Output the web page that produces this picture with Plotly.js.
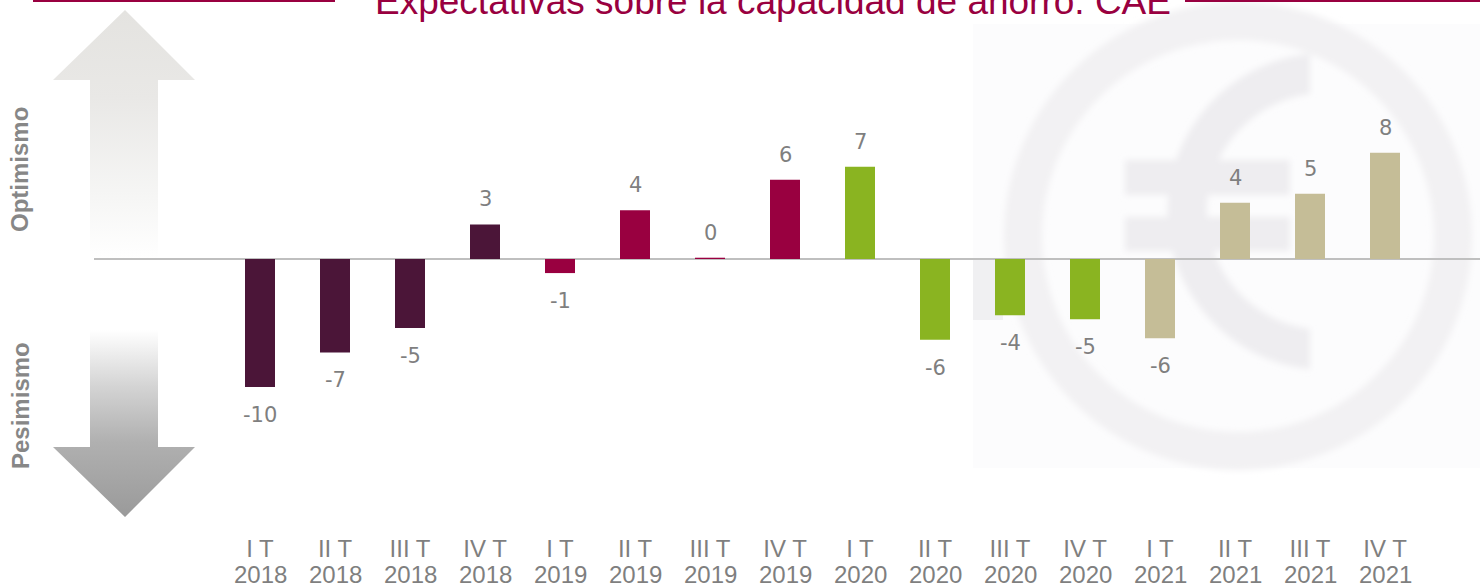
<!DOCTYPE html>
<html>
<head>
<meta charset="utf-8">
<script src="https://cdn.plot.ly/plotly-3.0.1.min.js"></script>
<style>html,body{margin:0;padding:0;background:#fff;}#chart{width:1480px;height:586px;}</style>
</head>
<body>
<div id="chart"></div>
<script>
// ---- data ----
const quarters = ['I T','II T','III T','IV T','I T','II T','III T','IV T','I T','II T','III T','IV T','I T','II T','III T','IV T'];
const years = ['2018','2018','2018','2018','2019','2019','2019','2019','2020','2020','2020','2020','2021','2021','2021','2021'];
const values = [-10.0, -7.3, -5.4, 2.7, -1.1, 3.8, 0.1, 6.2, 7.2, -6.3, -4.4, -4.7, -6.2, 4.4, 5.1, 8.3];
const yearColors = {'2018':'#4b1538','2019':'#990040','2020':'#8ab421','2021':'#c5bd97'};
const titleText = 'Expectativas sobre la capacidad de ahorro. CAE';
const upLabel = 'Optimismo';
const downLabel = 'Pesimismo';

// ---- layout geometry ----
const W = 1480, H = 586;
const ML = 94, MR = 0, MT = 40, MB = 56;
const PW = W - ML - MR, PH = H - MT - MB;
const FONT = 'Liberation Sans, Arial, Helvetica, sans-serif';
const VFONT = 'DejaVu Sans, Liberation Sans, Arial, sans-serif';
const px2x = p => (p - ML) / PW;
const px2y = p => (H - MB - p) / PH;

const cats = quarters.map((q, i) => q + ' ' + years[i] + ' #' + i);

// decorative background (arrows, euro watermark, title rules)
const svg = `<svg xmlns="http://www.w3.org/2000/svg" width="${W}" height="${H}" viewBox="0 0 ${W} ${H}" preserveAspectRatio="none">
<defs>
<linearGradient id="gu" x1="0" y1="10" x2="0" y2="260" gradientUnits="userSpaceOnUse">
<stop offset="0" stop-color="#e4e3e0"/><stop offset="0.35" stop-color="#e9e8e6"/><stop offset="0.75" stop-color="#f6f6f5"/><stop offset="1" stop-color="#ffffff"/>
</linearGradient>
<linearGradient id="gd" x1="0" y1="330" x2="0" y2="517" gradientUnits="userSpaceOnUse">
<stop offset="0" stop-color="#ffffff"/><stop offset="0.3" stop-color="#d4d4d4"/><stop offset="0.6" stop-color="#b0b0b0"/><stop offset="1" stop-color="#9a9a9a"/>
</linearGradient>
<filter id="bl" x="-10%" y="-10%" width="120%" height="120%"><feGaussianBlur stdDeviation="3"/></filter>
</defs>
<rect x="973" y="24" width="507" height="444" fill="#fcfcfd"/>
<rect x="973" y="260" width="30" height="60" fill="#f0f0f2"/>
<g filter="url(#bl)">
<circle cx="1238" cy="236" r="215" fill="none" stroke="#f2f1f3" stroke-width="38"/>
<path d="M1310,53.8 A158.5,158.5 0 0 0 1310,369.2 L1310,329 A118.5,118.5 0 0 1 1310,94 Z" fill="#eeedf0"/>
<rect x="1125" y="160" width="165" height="35" fill="#eeedf0"/>
<rect x="1125" y="217" width="165" height="34" fill="#eeedf0"/>
</g>
<path d="M125,10 L195,80 L158,80 L158,260 L90,260 L90,80 L53,80 Z" fill="url(#gu)"/>
<path d="M90,330 L158,330 L158,447 L195,447 L125,517 L53,447 L90,447 Z" fill="url(#gd)"/>
<rect x="33" y="0" width="302" height="2" fill="#990040"/>
<rect x="1185" y="0" width="295" height="2" fill="#990040"/>
</svg>`;

const trace = {
  type: 'bar',
  x: cats,
  y: values,
  marker: {color: years.map(y => yearColors[y]), line: {width: 0}},
  hoverinfo: 'skip',
  showlegend: false
};

const annotations = [];
values.forEach((v, i) => {
  annotations.push({
    x: cats[i], y: v, xref: 'x', yref: 'y',
    text: String(Math.round(v)),
    showarrow: false,
    yanchor: v >= 0 ? 'bottom' : 'top',
    yshift: v >= 0 ? 11 : -14,
    font: {family: VFONT, size: 21, color: '#7f7f7f'}
  });
  annotations.push({
    x: cats[i], y: 0, xref: 'x', yref: 'paper',
    text: years[i],
    showarrow: false,
    yanchor: 'top',
    yshift: -29.5,
    borderpad: 0,
    font: {family: FONT, size: 24, color: '#7f7f7f'}
  });
});
annotations.push({
  x: px2x(20), y: px2y(170), xref: 'paper', yref: 'paper',
  text: '<b>' + upLabel + '</b>', textangle: -90, showarrow: false,
  xanchor: 'center', yanchor: 'middle',
  font: {family: FONT, size: 24, color: '#878787'}
});
annotations.push({
  x: px2x(20), y: px2y(406), xref: 'paper', yref: 'paper',
  text: '<b>' + downLabel + '</b>', textangle: -90, showarrow: false,
  xanchor: 'center', yanchor: 'middle',
  font: {family: FONT, size: 24, color: '#878787'}
});

const zeroPx = 259, pxPerUnit = 12.8;
const yTop = (zeroPx - MT) / pxPerUnit;
const yBot = -(H - MB - zeroPx) / pxPerUnit;
const centerFirst = 260, step = 75;
const xLeft = -(centerFirst - ML) / step;
const xRight = (W - MR - centerFirst) / step;

const layout = {
  width: W, height: H,
  margin: {l: ML, r: MR, t: MT, b: MB, pad: 0},
  paper_bgcolor: '#ffffff',
  plot_bgcolor: 'rgba(0,0,0,0)',
  font: {family: FONT, color: '#7f7f7f'},
  title: {
    text: titleText,
    font: {family: FONT, size: 37, color: '#990040'},
    xref: 'container', yref: 'container',
    x: 773 / W, xanchor: 'center',
    y: 1 - 1.4 / H, yanchor: 'middle'
  },
  bargap: 0.6,
  xaxis: {
    type: 'category',
    range: [xLeft, xRight],
    tickvals: cats, ticktext: quarters,
    showgrid: false, showline: false, zeroline: false, ticks: '',
    ticklabelstandoff: 2,
    tickfont: {family: FONT, size: 24, color: '#7f7f7f'},
    fixedrange: true
  },
  yaxis: {
    range: [yBot, yTop],
    showgrid: false, showline: false, showticklabels: false, ticks: '',
    zeroline: true, zerolinecolor: '#bfbfbf', zerolinewidth: 1.5,
    fixedrange: true
  },
  images: [{
    source: 'data:image/svg+xml;charset=utf-8,' + encodeURIComponent(svg),
    xref: 'paper', yref: 'paper',
    x: px2x(0), y: px2y(0),
    sizex: W / PW, sizey: H / PH,
    xanchor: 'left', yanchor: 'top',
    sizing: 'stretch', layer: 'below'
  }],
  annotations: annotations,
  showlegend: false
};

Plotly.newPlot('chart', [trace], layout, {staticPlot: true, displayModeBar: false});
</script>
</body>
</html>
